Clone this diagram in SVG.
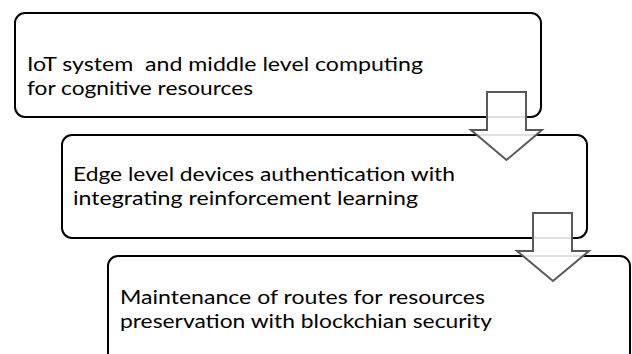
<svg xmlns="http://www.w3.org/2000/svg" width="632" height="354" viewBox="0 0 632 354">
  <style>
    .box { fill: #ffffff; stroke: #000000; stroke-width: 2; }
    .label { font-family: Lato, "Noto Sans", "Liberation Sans", sans-serif; font-size: 19.5px; fill: #000000; white-space: pre; }
    .arrow { fill: #ffffff; fill-opacity: 0.88; stroke: #595959; stroke-width: 2; stroke-linejoin: miter; }
  </style>
  <rect x="0" y="0" width="632" height="354" fill="#ffffff"/>

  <g id="step1">
    <rect class="box" x="15" y="13" width="526" height="104" rx="10" ry="10"/>
    <text class="label" x="27" y="71" textLength="396" lengthAdjust="spacingAndGlyphs" xml:space="preserve">IoT system  and middle level computing</text>
    <text class="label" x="27" y="95" textLength="226" lengthAdjust="spacingAndGlyphs">for cognitive resources</text>
  </g>

  <g id="step2">
    <rect class="box" x="62" y="135" width="525" height="103" rx="10" ry="10"/>
    <text class="label" x="73" y="181" textLength="382" lengthAdjust="spacingAndGlyphs">Edge level devices authentication with</text>
    <text class="label" x="73" y="205" textLength="345" lengthAdjust="spacingAndGlyphs">integrating reinforcement learning</text>
  </g>

  <g id="step3">
    <rect class="box" x="108" y="256" width="522" height="130" rx="10" ry="10"/>
    <text class="label" x="120" y="304" textLength="365" lengthAdjust="spacingAndGlyphs">Maintenance of routes for resources</text>
    <text class="label" x="120" y="328" textLength="372" lengthAdjust="spacingAndGlyphs">preservation with blockchian security</text>
  </g>

  <g id="connectors">
    <path class="arrow" d="M487,92 H526 V130 H542 L506.5,160 L471,130 H487 Z"/>
    <path class="arrow" d="M533,213 H572 V251 H589 L553,281 L517,251 H533 Z"/>
  </g>
</svg>
